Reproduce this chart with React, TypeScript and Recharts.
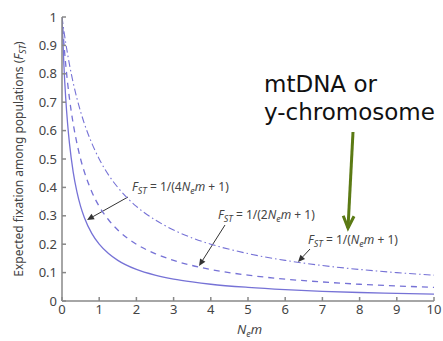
import React from 'react';
import { LineChart, Line, XAxis, YAxis, Customized } from 'recharts';

const nem = [0, 0.05, 0.1, 0.15, 0.2, 0.3, 0.4, 0.5, 0.6, 0.8, 1, 1.25, 1.5, 2, 2.5, 3, 3.5, 4, 5, 6, 7, 8, 9, 10];
const fst4 = [1, 0.833, 0.714, 0.625, 0.556, 0.455, 0.385, 0.333, 0.294, 0.238, 0.2, 0.167, 0.143, 0.111, 0.091, 0.077, 0.067, 0.059, 0.048, 0.04, 0.034, 0.03, 0.027, 0.024];
const fst2 = [1, 0.909, 0.833, 0.769, 0.714, 0.625, 0.556, 0.5, 0.455, 0.385, 0.333, 0.286, 0.25, 0.2, 0.167, 0.143, 0.125, 0.111, 0.091, 0.077, 0.067, 0.059, 0.053, 0.048];
const fst1 = [1, 0.952, 0.909, 0.87, 0.833, 0.769, 0.714, 0.667, 0.625, 0.556, 0.5, 0.444, 0.4, 0.333, 0.286, 0.25, 0.222, 0.2, 0.167, 0.143, 0.125, 0.111, 0.1, 0.091];
const xTicks = [0, 1, 2, 3, 4, 5, 6, 7, 8, 9, 10];
const yTicks = [0, 0.1, 0.2, 0.3, 0.4, 0.5, 0.6, 0.7, 0.8, 0.9, 1];

const data = nem.map((x, i) => ({ x, a: fst4[i], b: fst2[i], c: fst1[i] }));

const FONT = '"Noto Sans", "Open Sans", sans-serif';
const LINE = '#7672d6';
const TXT = '#444';

const Fst = ({ x, y, k }: { x: number; y: number; k: string }) => (
  <text x={x} y={y} fontFamily={FONT} fontSize={12} fill={TXT}>
    <tspan fontStyle="italic">F</tspan>
    <tspan fontStyle="italic" fontSize={9} dy={3}>ST</tspan>
    <tspan dy={-3}>{` = 1/(${k}`}</tspan>
    <tspan fontStyle="italic">N</tspan>
    <tspan fontStyle="italic" fontSize={9} dy={3}>e</tspan>
    <tspan fontStyle="italic" dy={-3}>m</tspan>
    <tspan> + 1)</tspan>
  </text>
);

const Arrow = ({ x1, y1, x2, y2, color = '#333', w = 1, head = 7, open = false }: any) => {
  const ang = Math.atan2(y2 - y1, x2 - x1);
  const hw = head * 0.45;
  const bx = x2 - head * Math.cos(ang);
  const by = y2 - head * Math.sin(ang);
  const px = -Math.sin(ang) * hw;
  const py = Math.cos(ang) * hw;
  return (
    <g>
      <line x1={x1} y1={y1} x2={open ? x2 : bx} y2={open ? y2 : by} stroke={color} strokeWidth={w} />
      {open ? (
        <polyline points={`${bx + px},${by + py} ${x2},${y2} ${bx - px},${by - py}`} fill="none" stroke={color} strokeWidth={w} />
      ) : (
        <polygon points={`${bx + px},${by + py} ${x2},${y2} ${bx - px},${by - py}`} fill={color} />
      )}
    </g>
  );
};

const Annotations = () => (
  <g>
    <text x={23} y={159} transform="rotate(-90 23 159)" textAnchor="middle" fontFamily={FONT} fontSize={12} fill={TXT}>
      <tspan>Expected fixation among populations (</tspan>
      <tspan fontStyle="italic">F</tspan>
      <tspan fontStyle="italic" fontSize={9} dy={3}>ST</tspan>
      <tspan dy={-3}>)</tspan>
    </text>
    <text x={237} y={334} fontFamily={FONT} fontSize={13} fill={TXT}>
      <tspan fontStyle="italic">N</tspan>
      <tspan fontStyle="italic" fontSize={9} dy={3}>e</tspan>
      <tspan fontStyle="italic" dy={-3}>m</tspan>
    </text>
    <Fst x={132} y={191} k="4" />
    <Arrow x1={128} y1={197} x2={87} y2={220} />
    <Fst x={218} y={219} k="2" />
    <Arrow x1={225} y1={225} x2={199} y2={266} />
    <Fst x={308} y={244} k="" />
    <Arrow x1={310} y1={249} x2={298} y2={262} />
    <text x={264} y={92} fontFamily='"DejaVu Sans", sans-serif' fontSize={23} fill="#111">mtDNA or</text>
    <text x={264} y={120} fontFamily='"DejaVu Sans", sans-serif' fontSize={23} fill="#111">y-chromosome</text>
    <Arrow x1={353} y1={132} x2={348} y2={228} color="#5b7a14" w={3} head={12} open />
  </g>
);

export default function App() {
  return (
    <div style={{ position: 'absolute', left: 0, top: 0, background: '#fff' }}>
      <LineChart width={443} height={341} data={data} margin={{ top: 17, right: 9, left: 0, bottom: 0 }}>
        <XAxis
          type="number"
          dataKey="x"
          domain={[0, 10]}
          ticks={xTicks}
          height={40}
          tickSize={-4}
          tickMargin={8}
          stroke="#888"
          strokeWidth={1.5}
          tick={{ fill: TXT, fontSize: 13, fontFamily: FONT }}
          allowDataOverflow
        />
        <YAxis
          type="number"
          domain={[0, 1]}
          ticks={yTicks}
          width={62}
          tickSize={-4}
          tickMargin={9}
          stroke="#888"
          strokeWidth={1.5}
          tick={{ fill: TXT, fontSize: 13, fontFamily: FONT }}
          allowDataOverflow
        />
        <Line type="monotone" dataKey="a" stroke={LINE} strokeWidth={1.3} dot={false} isAnimationActive={false} />
        <Line type="monotone" dataKey="b" stroke={LINE} strokeWidth={1.3} strokeDasharray="6 5" dot={false} isAnimationActive={false} />
        <Line type="monotone" dataKey="c" stroke={LINE} strokeWidth={1.1} strokeDasharray="7 3 1.5 3" dot={false} isAnimationActive={false} />
        <Customized component={Annotations} />
      </LineChart>
    </div>
  );
}
